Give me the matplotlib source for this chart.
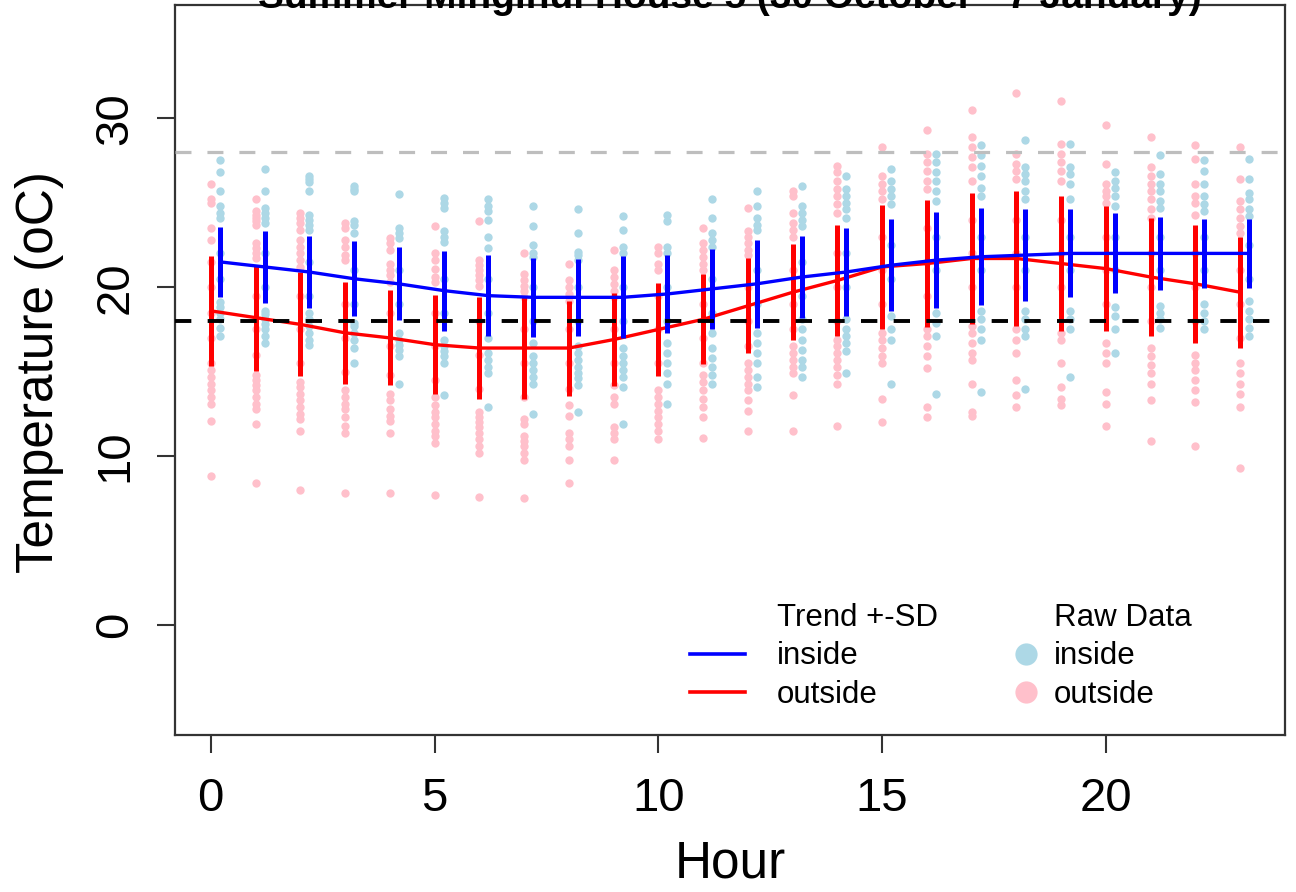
import matplotlib
matplotlib.use("Agg")
import matplotlib.pyplot as plt
from matplotlib.lines import Line2D
import numpy as np

plt.rcParams['font.family'] = ['Liberation Sans', 'DejaVu Sans']

title = "Summer Minginui House 5 (30 October - 7 January)"
xlabel = "Hour"
ylabel = "Temperature (oC)"
hours = list(range(24))
xticks = [0, 5, 10, 15, 20]
yticks = [0, 10, 20, 30]
comfort_upper = 28
comfort_lower = 18

inside_mean = [21.5, 21.2, 20.9, 20.5, 20.2, 19.8, 19.5, 19.4, 19.4, 19.4, 19.6, 19.9,
               20.2, 20.6, 20.9, 21.3, 21.6, 21.8, 21.9, 22.0, 22.0, 22.0, 22.0, 22.0]
inside_sd = [2.07, 2.14, 2.15, 2.22, 2.17, 2.37, 2.40, 2.33, 2.27, 2.42, 2.33, 2.37,
             2.62, 2.42, 2.59, 2.73, 2.84, 2.86, 2.74, 2.60, 2.37, 2.17, 2.04, 2.05]
outside_mean = [18.6, 18.2, 17.8, 17.3, 17.0, 16.6, 16.4, 16.4, 16.4, 16.9, 17.5, 18.1,
                18.9, 19.7, 20.4, 21.2, 21.4, 21.7, 21.7, 21.4, 21.1, 20.6, 20.2, 19.7]
outside_sd = [3.26, 3.13, 3.07, 3.00, 2.81, 2.91, 3.04, 3.01, 2.81, 2.77, 2.77, 2.67,
              2.80, 2.84, 3.26, 3.67, 3.78, 3.90, 3.99, 4.00, 3.70, 3.47, 3.50, 3.30]

outside_raw = [
    [26.1, 25.2, 25.0, 23.5, 22.8, 21.5, 20.0, 18.5, 17.0, 15.5, 15.1, 14.7, 14.3, 13.9, 13.5, 13.1, 12.1, 8.8],
    [25.2, 24.5, 24.3, 24.1, 23.9, 23.7, 22.6, 22.3, 22.0, 21.7, 19.5, 17.5, 16.0, 14.8, 14.5, 14.2, 13.9, 13.5, 13.1, 12.8, 11.9, 8.4],
    [24.4, 24.1, 23.8, 23.4, 22.8, 22.4, 22.0, 21.6, 21.2, 19.5, 17.5, 15.5, 14.4, 14.1, 13.7, 13.3, 12.9, 12.5, 12.2, 11.5, 8.0],
    [23.8, 23.5, 22.8, 22.4, 21.9, 21.6, 19.0, 17.0, 15.0, 13.9, 13.5, 13.1, 12.8, 12.3, 11.8, 11.4, 7.8],
    [22.9, 22.6, 22.2, 21.4, 21.0, 20.7, 20.3, 18.5, 16.5, 14.8, 13.7, 13.3, 12.8, 12.4, 12.1, 11.4, 7.8],
    [23.6, 22.0, 21.6, 21.1, 20.6, 20.3, 18.5, 16.5, 14.5, 13.5, 13.0, 12.6, 12.3, 11.9, 11.5, 11.2, 10.8, 7.7],
    [23.9, 21.6, 21.3, 21.0, 20.7, 20.4, 20.1, 18.0, 16.0, 14.0, 12.6, 12.3, 12.0, 11.7, 11.4, 11.0, 10.6, 10.2, 7.6],
    [22.0, 20.8, 20.4, 20.1, 19.8, 19.4, 17.5, 15.5, 13.5, 12.2, 11.9, 11.2, 10.9, 10.6, 10.2, 9.8, 7.5],
    [21.4, 20.4, 20.0, 19.6, 19.2, 17.5, 15.5, 14.0, 13.0, 12.4, 11.4, 11.0, 10.6, 9.8, 8.4],
    [22.2, 21.0, 20.6, 20.2, 19.8, 19.4, 17.5, 15.5, 14.2, 13.5, 13.1, 11.7, 11.4, 11.0, 9.8],
    [22.4, 22.0, 21.4, 21.0, 19.5, 17.5, 15.5, 13.9, 13.5, 13.1, 12.7, 12.3, 11.9, 11.5, 11.0],
    [23.5, 22.6, 22.2, 21.8, 21.4, 21.0, 19.0, 17.0, 15.5, 14.8, 14.4, 13.9, 13.4, 12.9, 12.3, 11.1],
    [24.7, 23.3, 23.0, 22.6, 22.2, 21.9, 20.0, 18.0, 16.5, 15.5, 15.1, 14.7, 14.3, 13.9, 13.3, 12.7, 11.5],
    [25.7, 25.4, 24.4, 23.8, 23.4, 23.0, 21.0, 19.0, 17.5, 16.5, 16.1, 15.7, 15.3, 14.9, 13.6, 11.5],
    [27.2, 26.8, 26.3, 25.8, 25.4, 24.9, 24.4, 22.0, 20.0, 18.0, 16.9, 16.5, 16.1, 15.7, 15.3, 14.8, 14.3, 11.8],
    [28.3, 26.6, 26.1, 25.7, 25.2, 23.0, 21.0, 19.0, 17.3, 16.9, 16.4, 15.9, 15.5, 13.4, 12.0],
    [29.3, 27.9, 27.4, 26.9, 26.3, 25.8, 23.5, 21.5, 19.5, 17.5, 17.1, 16.5, 15.9, 15.2, 12.9, 12.3],
    [30.5, 28.9, 28.3, 27.7, 27.1, 26.3, 24.0, 22.0, 20.0, 17.7, 17.3, 16.7, 16.1, 15.7, 14.3, 12.6, 12.4],
    [31.5, 27.9, 27.3, 26.9, 26.4, 24.0, 22.0, 20.0, 17.5, 16.9, 16.1, 14.5, 13.6, 12.9],
    [31.0, 28.5, 27.9, 27.4, 26.9, 26.3, 24.0, 22.0, 20.0, 17.3, 16.9, 15.5, 14.1, 13.4, 13.0],
    [29.6, 27.3, 26.1, 25.7, 25.4, 25.0, 23.0, 21.0, 19.0, 16.7, 16.1, 15.5, 13.8, 13.1, 11.8],
    [28.9, 27.1, 26.6, 26.1, 25.7, 25.2, 24.6, 24.1, 22.0, 20.0, 18.0, 16.4, 15.9, 15.4, 14.9, 14.3, 13.3, 10.9],
    [28.4, 27.6, 26.1, 25.4, 25.0, 24.3, 22.0, 20.0, 18.0, 16.0, 15.5, 15.1, 14.5, 13.9, 13.2, 10.6],
    [28.3, 26.4, 25.1, 24.6, 24.1, 23.6, 23.2, 21.0, 19.0, 17.0, 15.5, 14.9, 14.3, 13.7, 12.9, 9.3],
]

inside_raw = [
    [27.5, 26.8, 25.7, 24.8, 24.4, 24.1, 22.0, 20.5, 19.1, 18.8, 18.5, 18.1, 17.6, 17.1],
    [27.0, 25.7, 24.7, 24.4, 24.1, 23.8, 22.0, 20.0, 18.6, 18.4, 18.1, 17.8, 17.5, 17.1, 16.7],
    [26.6, 26.4, 26.2, 25.7, 24.3, 24.0, 23.7, 23.4, 21.5, 19.5, 18.5, 18.1, 17.7, 17.3, 16.9, 16.6],
    [26.0, 25.8, 25.7, 23.9, 23.7, 23.2, 21.0, 19.0, 17.9, 17.7, 17.3, 16.9, 16.4, 15.5],
    [25.5, 23.5, 23.2, 22.9, 21.0, 19.0, 17.3, 16.9, 16.6, 16.3, 15.9, 14.3],
    [25.3, 25.0, 24.7, 23.3, 23.0, 22.7, 20.5, 18.5, 16.9, 16.5, 16.2, 15.9, 15.5, 13.6],
    [25.2, 24.8, 24.5, 24.0, 23.0, 22.3, 20.5, 18.5, 17.0, 16.1, 15.7, 15.3, 14.9, 12.9],
    [24.8, 23.6, 22.5, 22.0, 21.8, 20.0, 18.0, 16.7, 15.9, 15.5, 15.1, 14.7, 14.3, 12.5],
    [24.6, 23.2, 22.1, 21.9, 21.6, 20.0, 18.0, 16.5, 16.1, 15.7, 15.3, 14.9, 14.6, 14.2, 12.6],
    [24.2, 23.4, 22.4, 22.0, 20.0, 18.0, 16.4, 15.9, 15.5, 15.1, 14.7, 14.1, 11.9],
    [24.3, 23.9, 22.4, 22.0, 20.0, 18.0, 16.7, 16.1, 15.5, 14.9, 14.3, 13.1],
    [25.2, 24.1, 23.2, 22.8, 22.4, 20.5, 18.5, 17.3, 16.4, 15.8, 15.3, 14.8, 14.3],
    [25.7, 24.8, 24.1, 23.7, 23.4, 21.0, 19.0, 17.3, 16.7, 16.1, 15.5, 14.7, 14.1],
    [26.0, 24.8, 24.4, 24.0, 23.6, 21.5, 19.5, 18.1, 17.5, 16.9, 16.3, 15.7, 15.3, 14.7],
    [26.6, 25.8, 25.4, 25.0, 24.6, 24.1, 22.0, 20.0, 18.1, 17.5, 17.1, 16.7, 16.2, 14.9],
    [27.0, 26.3, 25.8, 25.4, 24.9, 22.5, 20.5, 18.3, 17.5, 16.9, 14.3],
    [27.9, 27.4, 26.8, 26.3, 25.7, 25.1, 23.0, 21.0, 18.5, 17.9, 17.1, 13.7],
    [28.4, 27.8, 27.2, 26.6, 25.9, 25.4, 23.0, 21.0, 18.6, 18.1, 17.5, 16.9, 13.8],
    [28.7, 27.1, 26.7, 26.3, 25.7, 25.2, 23.0, 21.0, 18.6, 18.1, 17.5, 17.1, 14.0],
    [28.5, 27.1, 26.7, 26.1, 25.2, 23.0, 21.0, 18.6, 18.1, 17.5, 14.7],
    [26.8, 26.3, 25.9, 25.4, 24.8, 23.0, 21.0, 18.8, 18.3, 17.5, 16.1],
    [27.8, 26.7, 26.1, 25.7, 25.1, 24.7, 23.0, 21.0, 18.9, 18.5, 18.1, 17.6],
    [27.5, 26.9, 26.1, 25.4, 24.9, 24.5, 23.0, 21.0, 19.0, 18.5, 18.0, 17.5],
    [27.6, 26.4, 25.6, 25.2, 24.6, 24.2, 22.5, 20.5, 19.2, 18.6, 18.1, 17.6, 17.1],
]

inside_offset = 0.2

W, H = 1296, 892
fig = plt.figure(figsize=(W / 100, H / 100), dpi=100)
ax = fig.add_axes([175 / W, 1 - 735 / H, 1110 / W, 730 / H])

c_in_raw = "#ADD8E6"
c_out_raw = "#FFC0CB"
c_in = "#0000FF"
c_out = "#FF0000"

# raw data
for h in hours:
    ax.plot([h] * len(outside_raw[h]), outside_raw[h], 'o', color=c_out_raw,
            ms=6, mec='none', zorder=1)
    ax.plot([h + inside_offset] * len(inside_raw[h]), inside_raw[h], 'o', color=c_in_raw,
            ms=6, mec='none', zorder=1)

x_in = np.array(hours) + inside_offset
x_out = np.array(hours)
om, osd = np.array(outside_mean), np.array(outside_sd)
im, isd = np.array(inside_mean), np.array(inside_sd)

ax.vlines(x_out, om - osd, om + osd, color=c_out, lw=3.6, zorder=3)
ax.plot(x_out, om, color=c_out, lw=2.4, zorder=3)
ax.vlines(x_in, im - isd, im + isd, color=c_in, lw=3.6, zorder=4)
ax.plot(x_in, im, color=c_in, lw=2.4, zorder=4)

ax.axhline(comfort_upper, color="#BEBEBE", lw=2.3, linestyle=(0, (5, 5)), zorder=5)
ax.axhline(comfort_lower, color="black", lw=2.8, linestyle=(0, (4.2, 4.2)), zorder=5)

ax.set_xlim(-0.8, 24.0)
ax.set_ylim(-6.5, 36.7)
ax.set_xticks(xticks)
ax.set_yticks(yticks)
ax.tick_params(axis='both', labelsize=34, length=13, width=1.5, color='#333333')
ax.tick_params(axis='x', pad=17)
ax.tick_params(axis='y', pad=14)
for lab in ax.get_yticklabels():
    lab.set_rotation(90)
    lab.set_va('center')
for s in ax.spines.values():
    s.set_linewidth(1.6)
    s.set_color('#333333')

fig.text(730 / W, 1 - 864 / H, xlabel, fontsize=37, ha='center', va='center')
fig.text(40 / W, 1 - 372 / H, ylabel, fontsize=37, ha='center', va='center', rotation=90)
fig.text(730 / W, 1 - 8 / H, title, fontsize=28, fontweight='bold', ha='center', va='baseline')

# legends
blank = Line2D([], [], color='none')
h1 = [blank, Line2D([], [], color=c_in, lw=2.6), Line2D([], [], color=c_out, lw=2.6)]
leg1 = ax.legend(h1, ["Trend +-SD", "inside", "outside"], loc='upper left',
                 bbox_to_anchor=(690 / W, 1 - 603 / H), bbox_transform=fig.transFigure,
                 frameon=False, fontsize=22.5, handlelength=1.76, handletextpad=1.02,
                 labelspacing=0.27, borderpad=0, borderaxespad=0)
ax.add_artist(leg1)
h2 = [blank, Line2D([], [], color=c_in_raw, marker='o', ls='none', ms=16, mec='none'),
      Line2D([], [], color=c_out_raw, marker='o', ls='none', ms=16, mec='none')]
leg2 = ax.legend(h2, ["Raw Data", "inside", "outside"], loc='upper left',
                 bbox_to_anchor=(1010 / W, 1 - 603 / H), bbox_transform=fig.transFigure,
                 frameon=False, fontsize=22.5, handlelength=1.0, handletextpad=0.4,
                 labelspacing=0.27, borderpad=0, borderaxespad=0)

fig.savefig("out.png", dpi=100)
